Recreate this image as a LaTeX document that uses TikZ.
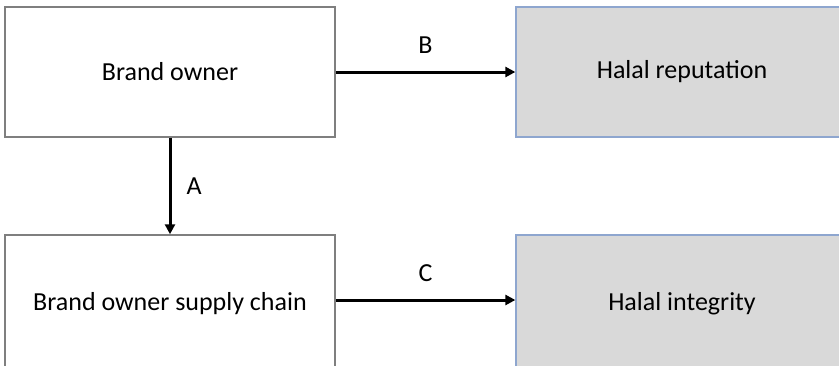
\documentclass[tikz,border=0pt]{standalone}
\usepackage{fontspec}
\setmainfont{Carlito}
\usetikzlibrary{arrows.meta}
\definecolor{boxgray}{HTML}{D9D9D9}
\definecolor{edgegray}{HTML}{7F7F7F}
\definecolor{edgeblue}{HTML}{8EA6CF}
\tikzset{
  txt/.style={font=\fontsize{26}{30}\selectfont},
  plainbox/.style={draw=edgegray, line width=1.5pt, fill=white, minimum width=330pt, minimum height=130pt, inner sep=0pt, txt},
  shadebox/.style={draw=edgeblue, line width=1.3pt, fill=boxgray, minimum width=332pt, minimum height=130pt, inner sep=0pt, txt},
  tallbox/.style={minimum height=150pt},
  link/.style={line width=3pt, -{Triangle[length=10pt,width=10pt]}},
  tag/.style={txt, inner sep=0pt}
}
\begin{document}
\begin{tikzpicture}[x=1pt,y=-1pt]
\useasboundingbox (0,0) rectangle (839,365);
\clip (0,0) rectangle (839,365);
\node[plainbox] (owner) at (170,72) {Brand owner};
\node[shadebox] (rep) at (682,72) {Halal reputation};
% the lower boxes run past the bottom edge; their text is lifted back to the row line
\node[plainbox, tallbox] (chain) at (170,310) {\raisebox{18pt}{Brand owner supply chain}};
\node[shadebox, tallbox] (integ) at (682,310) {\raisebox{18pt}{Halal integrity}};
\draw[link] (owner) -- (rep) node[tag, midway, above=17pt] {B};
\draw[link] (owner) -- (chain) node[tag, midway, right=15pt] {A};
\draw[link] ([yshift=10pt]chain.east) -- ([yshift=10pt]integ.west) node[tag, midway, above=17pt] {C};
\end{tikzpicture}
\end{document}
